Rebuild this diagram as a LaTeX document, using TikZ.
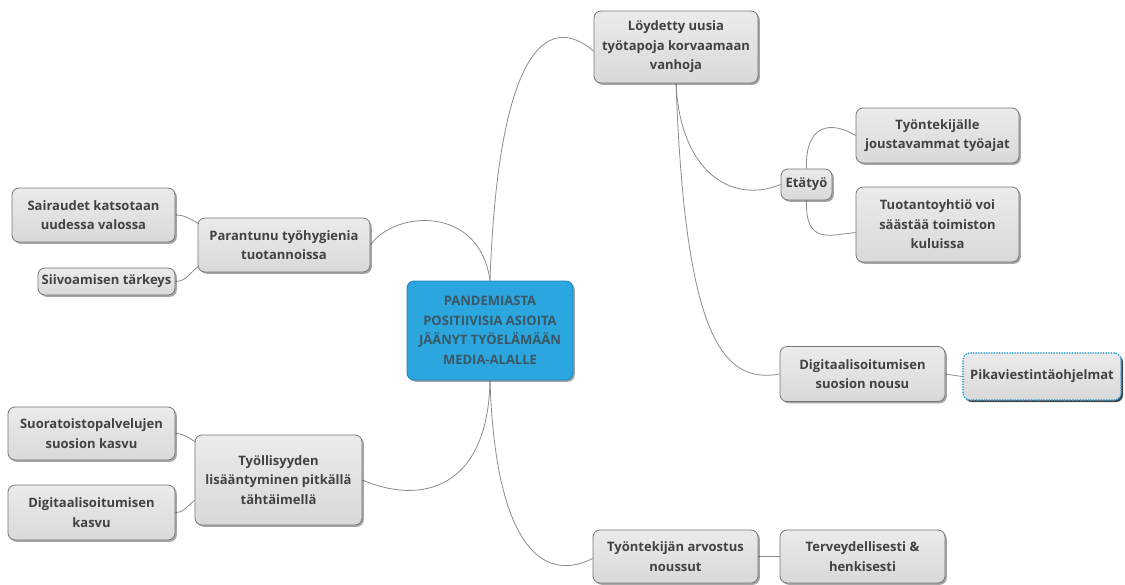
\documentclass[tikz,border=0pt]{standalone}
\usepackage{fontspec}
\setmainfont{Open Sans}
\usetikzlibrary{shadows,calc,backgrounds}
\definecolor{boxtop}{HTML}{EBEBEB}
\definecolor{boxbot}{HTML}{D9D9D9}
\definecolor{boxline}{HTML}{767676}
\definecolor{txt}{HTML}{424242}
\definecolor{linec}{HTML}{8C8C8C}
\definecolor{cblue}{HTML}{2BA6DE}
\definecolor{cline}{HTML}{1F86B8}
\definecolor{ctext}{HTML}{3A5766}
\definecolor{dotblue}{HTML}{3FA6D8}
\tikzset{
  box/.style={draw=boxline, line width=0.8pt, rounded corners=7pt,
    top color=boxtop, bottom color=boxbot,
    drop shadow={shadow xshift=1.8pt, shadow yshift=-1.8pt, fill=black, opacity=0.35},
    inner sep=0pt, align=center, text=txt,
    font=\bfseries\fontsize{13}{19.5}\selectfont},
  centerbox/.style={box, fill=cblue, top color=cblue, bottom color=cblue, draw=cline, text=ctext},
  dotbox/.style={box, draw=dotblue, line width=2pt, dash pattern=on 0pt off 2.6pt, line cap=round,
    drop shadow={shadow xshift=2pt, shadow yshift=-2.2pt, fill=black, opacity=0.6}},
  conn/.style={draw=linec, line width=0.8pt},
}
\begin{document}
\begin{tikzpicture}[x=1pt, y=-1pt]
\useasboundingbox (0,0) rectangle (1125,584);
% center
\node[centerbox, minimum width=166pt, minimum height=99pt] (c) at (490,330.5)
  {PANDEMIASTA\\POSITIIVISIA ASIOITA\\JÄÄNYT TYÖELÄMÄÄN\\MEDIA-ALALLE};
% right branch
\node[box, minimum width=164pt, minimum height=72pt] (lo) at (676,47)
  {Löydetty uusia\\työtapoja korvaamaan\\vanhoja};
\node[box, minimum width=163pt, minimum height=55pt] (tj) at (937.5,135.5)
  {Työntekijälle\\joustavammat työajat};
\node[box, minimum width=51pt, minimum height=31pt] (et) at (806.5,184.5)
  {Etätyö};
\node[box, minimum width=163pt, minimum height=75pt] (tu) at (937.5,224.5)
  {Tuotantoyhtiö voi\\säästää toimiston\\kuluissa};
\node[box, minimum width=165pt, minimum height=55pt] (ds) at (862.5,374)
  {Digitaalisoitumisen\\suosion nousu};
\node[dotbox, minimum width=158pt, minimum height=47pt] (pk) at (1042,376.5)
  {Pikaviestintäohjelmat};
\node[box, minimum width=165pt, minimum height=53pt] (ta) at (675.5,556.5)
  {Työntekijän arvostus\\noussut};
\node[box, minimum width=165pt, minimum height=53pt] (te) at (862.5,556.5)
  {Terveydellisesti \&\\henkisesti};
% left branch
\node[box, minimum width=172pt, minimum height=54pt] (pa) at (284,245)
  {Parantunu työhygienia\\tuotannoissa};
\node[box, minimum width=163pt, minimum height=54pt] (sa) at (93.5,215)
  {Sairaudet katsotaan\\uudessa valossa};
\node[box, minimum width=137pt, minimum height=27pt] (si) at (106.5,281.5)
  {Siivoamisen tärkeys};
\node[box, minimum width=167pt, minimum height=53pt] (su) at (91.5,433.5)
  {Suoratoistopalvelujen\\suosion kasvu};
\node[box, minimum width=167pt, minimum height=90pt] (ty) at (278.5,480)
  {Työllisyyden\\lisääntyminen pitkällä\\tähtäimellä};
\node[box, minimum width=167pt, minimum height=55pt] (dk) at (91.5,512.5)
  {Digitaalisoitumisen\\kasvu};
\begin{pgfonlayer}{background}
\fill[white] (0,0) rectangle (1125,584);
\draw[conn] (c.north) .. controls (498,55) and (545,10) .. ($(lo.west)+(0,4)$);
\draw[conn] (c.north) .. controls (480,205) and (395,210) .. (pa.east);
\draw[conn] (c.south) .. controls (488,490) and (420,505) .. (ty.east);
\draw[conn] (c.south) .. controls (495,540) and (540,585) .. ($(ta.west)+(0,2)$);
\draw[conn] (lo.south) .. controls (680,170) and (730,205) .. (et.west);
\draw[conn] (lo.south) .. controls (685,330) and (720,385) .. (ds.west);
\draw[conn] (et.north) .. controls (805,125) and (830,120) .. (tj.west);
\draw[conn] (et.south) .. controls (805,245) and (830,235) .. ($(tu.west)+(0,8)$);
\draw[conn] (ds.east) -- (pk.west);
\draw[conn] (ta.east) -- (te.west);
\draw[conn] (sa.east) to[out=0,in=150] ($(pa.west)+(3,-20)$);
\draw[conn] (si.east) to[out=0,in=-150] ($(pa.west)+(3,20)$);
\draw[conn] (su.east) to[out=0,in=150] ($(ty.west)+(1,-38)$);
\draw[conn] (dk.east) to[out=0,in=-150] ($(ty.west)+(1,20)$);
\end{pgfonlayer}
\end{tikzpicture}
\end{document}
